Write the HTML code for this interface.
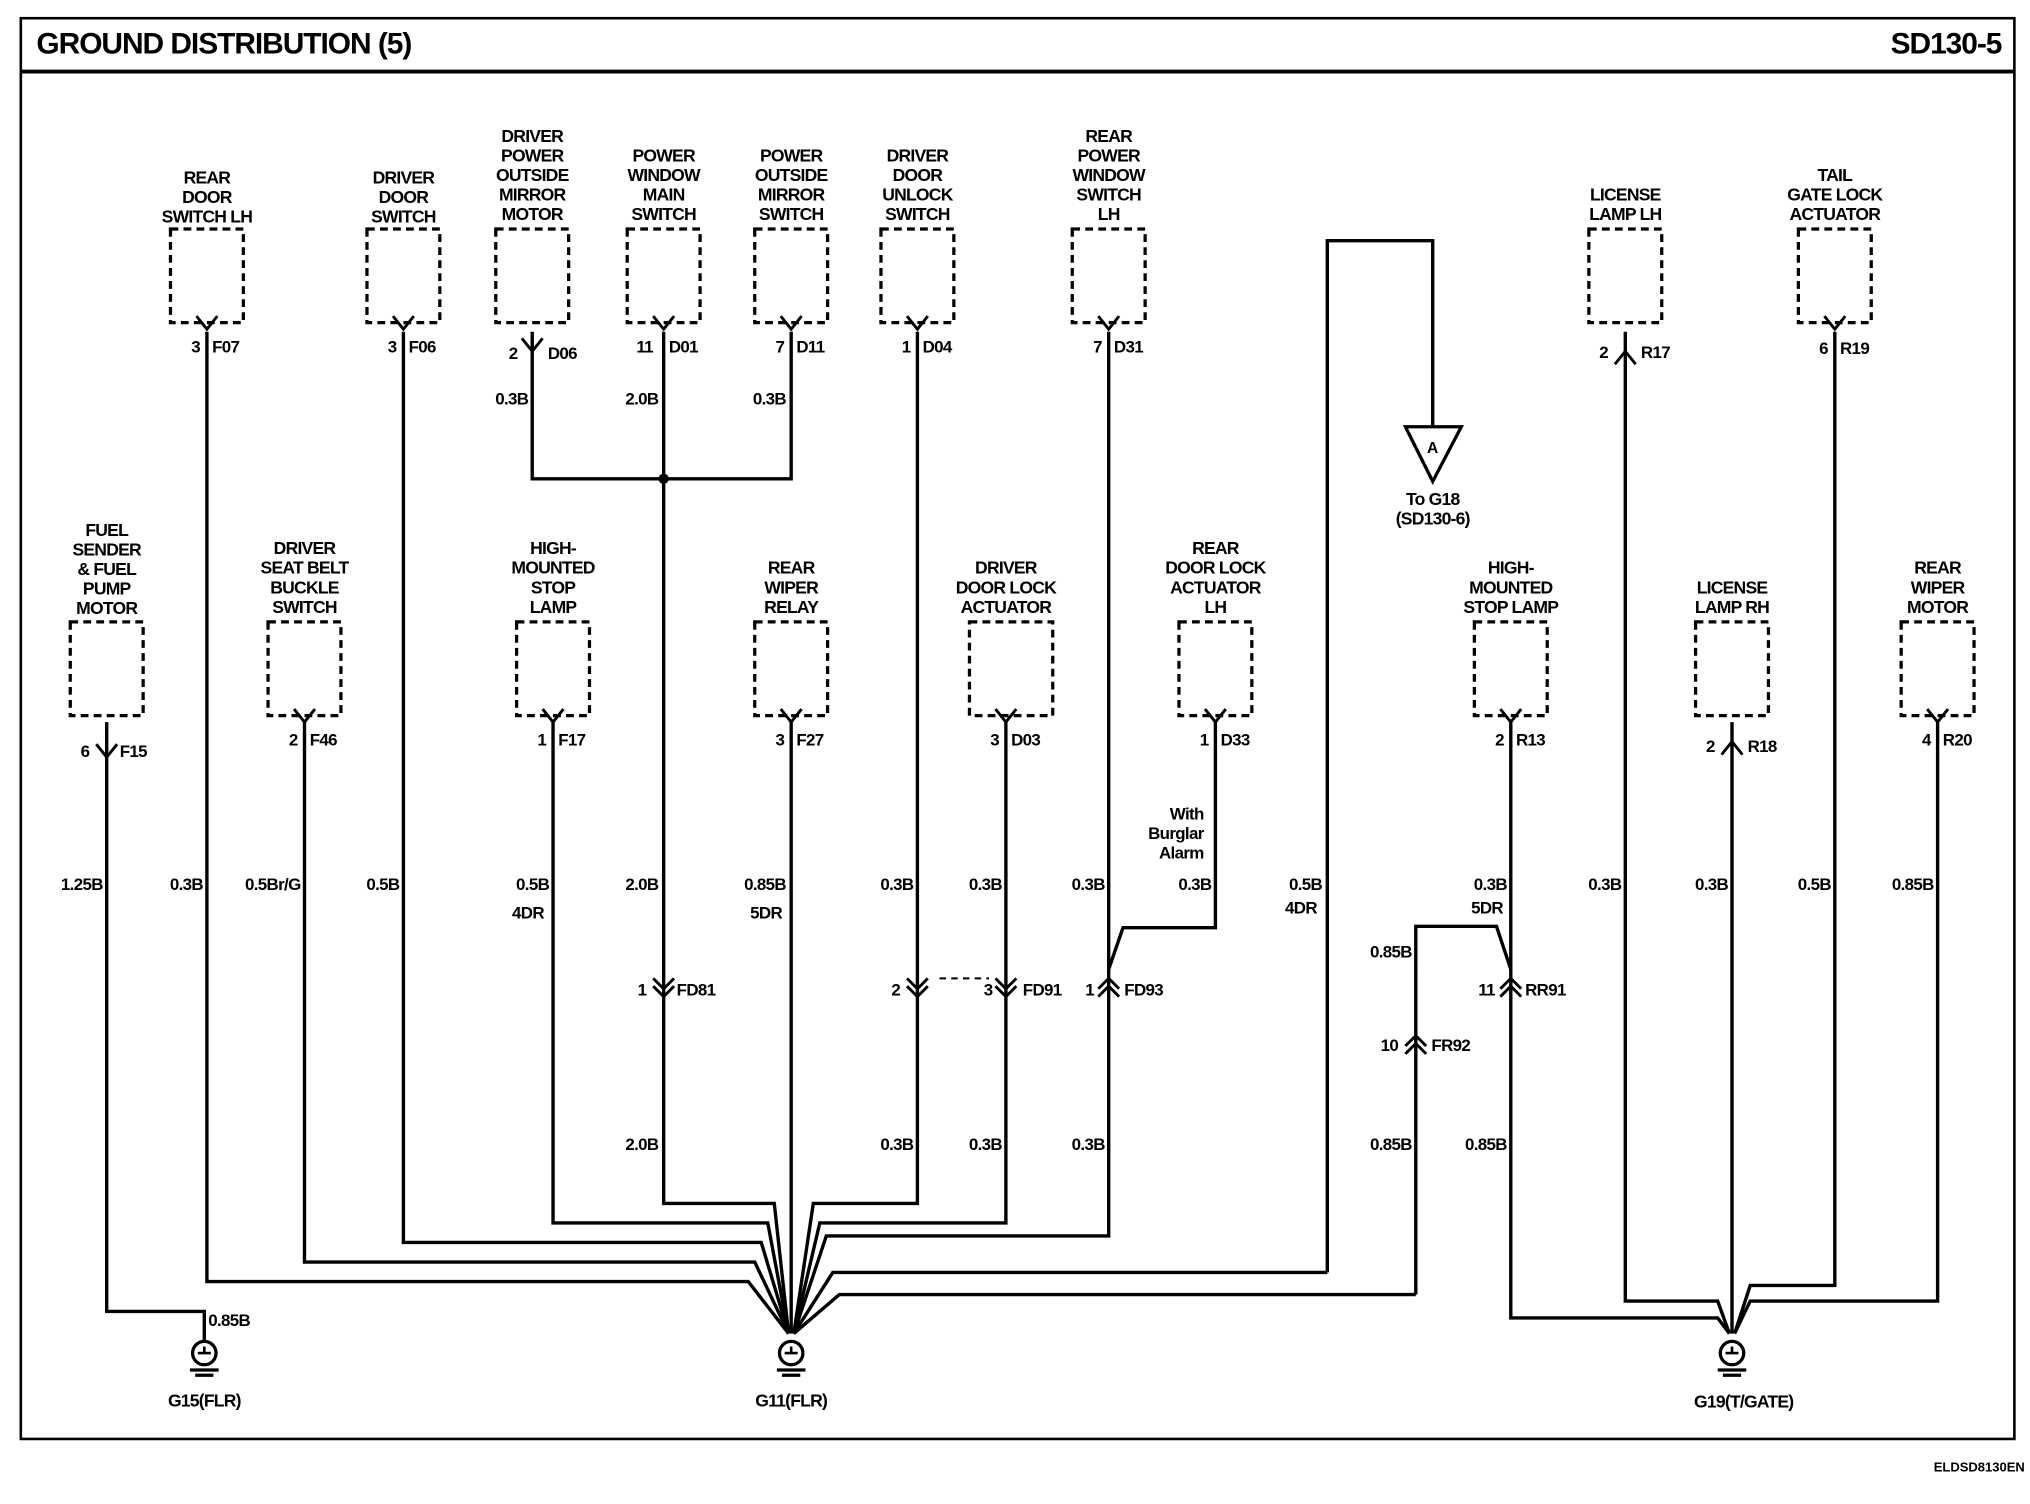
<!DOCTYPE html>
<html><head><meta charset="utf-8"><style>
html,body{margin:0;padding:0;background:#fff}
svg{display:block}
text{font-family:"Liberation Sans",Arial,sans-serif;font-weight:bold;fill:#000}
.l{font-size:13.5px;text-anchor:middle;letter-spacing:-0.6px}
.w{font-size:13px;text-anchor:end;letter-spacing:-0.5px}
.p{font-size:13px;letter-spacing:-0.5px}
.box{fill:none;stroke:#000;stroke-width:2.5;stroke-dasharray:6,4}
.wr{fill:none;stroke:#000;stroke-width:2.6}
.ch{fill:none;stroke:#000;stroke-width:2.2}
</style></head><body>
<svg width="2030" height="1504" viewBox="0 0 1560 1156" preserveAspectRatio="none" xmlns="http://www.w3.org/2000/svg">
<rect x="16" y="14" width="1532" height="1092" fill="none" stroke="#000" stroke-width="2"/>
<line x1="16" y1="55" x2="1548" y2="55" stroke="#000" stroke-width="3"/>
<text x="28" y="41" style="font-size:23px;letter-spacing:-0.8px">GROUND DISTRIBUTION (5)</text>
<text x="1538" y="41" style="font-size:23px;text-anchor:end;letter-spacing:-0.8px">SD130-5</text>
<text x="1556" y="1131" style="font-size:10px;text-anchor:end">ELDSD8130EN</text>

<!-- top row boxes -->
<g>
<rect class="box" x="131" y="176" width="56" height="72"/>
<rect class="box" x="282" y="176" width="56" height="72"/>
<rect class="box" x="381" y="176" width="56" height="72"/>
<rect class="box" x="482" y="176" width="56" height="72"/>
<rect class="box" x="580" y="176" width="56" height="72"/>
<rect class="box" x="677" y="176" width="56" height="72"/>
<rect class="box" x="824" y="176" width="56" height="72"/>
<rect class="box" x="1221" y="176" width="56" height="72"/>
<rect class="box" x="1382" y="176" width="56" height="72"/>
<!-- second row -->
<rect class="box" x="54" y="478" width="56" height="72"/>
<rect class="box" x="206" y="478" width="56" height="72"/>
<rect class="box" x="397" y="478" width="56" height="72"/>
<rect class="box" x="580" y="478" width="56" height="72"/>
<rect class="box" x="745" y="478" width="64" height="72"/>
<rect class="box" x="906" y="478" width="56" height="72"/>
<rect class="box" x="1133" y="478" width="56" height="72"/>
<rect class="box" x="1303" y="478" width="56" height="72"/>
<rect class="box" x="1461" y="478" width="56" height="72"/>
</g>

<!-- component labels -->
<text class="l" x="159" y="141">REAR</text><text class="l" x="159" y="156">DOOR</text><text class="l" x="159" y="171">SWITCH LH</text>
<text class="l" x="310" y="141">DRIVER</text><text class="l" x="310" y="156">DOOR</text><text class="l" x="310" y="171">SWITCH</text>
<text class="l" x="409" y="109">DRIVER</text><text class="l" x="409" y="124">POWER</text><text class="l" x="409" y="139">OUTSIDE</text><text class="l" x="409" y="154">MIRROR</text><text class="l" x="409" y="169">MOTOR</text>
<text class="l" x="510" y="124">POWER</text><text class="l" x="510" y="139">WINDOW</text><text class="l" x="510" y="154">MAIN</text><text class="l" x="510" y="169">SWITCH</text>
<text class="l" x="608" y="124">POWER</text><text class="l" x="608" y="139">OUTSIDE</text><text class="l" x="608" y="154">MIRROR</text><text class="l" x="608" y="169">SWITCH</text>
<text class="l" x="705" y="124">DRIVER</text><text class="l" x="705" y="139">DOOR</text><text class="l" x="705" y="154">UNLOCK</text><text class="l" x="705" y="169">SWITCH</text>
<text class="l" x="852" y="109">REAR</text><text class="l" x="852" y="124">POWER</text><text class="l" x="852" y="139">WINDOW</text><text class="l" x="852" y="154">SWITCH</text><text class="l" x="852" y="169">LH</text>
<text class="l" x="1249" y="154">LICENSE</text><text class="l" x="1249" y="169">LAMP LH</text>
<text class="l" x="1410" y="139">TAIL</text><text class="l" x="1410" y="154">GATE LOCK</text><text class="l" x="1410" y="169">ACTUATOR</text>
<text class="l" x="82" y="412">FUEL</text><text class="l" x="82" y="427">SENDER</text><text class="l" x="82" y="442">&amp; FUEL</text><text class="l" x="82" y="457">PUMP</text><text class="l" x="82" y="472">MOTOR</text>
<text class="l" x="234" y="426">DRIVER</text><text class="l" x="234" y="441">SEAT BELT</text><text class="l" x="234" y="456">BUCKLE</text><text class="l" x="234" y="471">SWITCH</text>
<text class="l" x="425" y="426">HIGH-</text><text class="l" x="425" y="441">MOUNTED</text><text class="l" x="425" y="456">STOP</text><text class="l" x="425" y="471">LAMP</text>
<text class="l" x="608" y="441">REAR</text><text class="l" x="608" y="456">WIPER</text><text class="l" x="608" y="471">RELAY</text>
<text class="l" x="773" y="441">DRIVER</text><text class="l" x="773" y="456">DOOR LOCK</text><text class="l" x="773" y="471">ACTUATOR</text>
<text class="l" x="934" y="426">REAR</text><text class="l" x="934" y="441">DOOR LOCK</text><text class="l" x="934" y="456">ACTUATOR</text><text class="l" x="934" y="471">LH</text>
<text class="l" x="1161" y="441">HIGH-</text><text class="l" x="1161" y="456">MOUNTED</text><text class="l" x="1161" y="471">STOP LAMP</text>
<text class="l" x="1331" y="456">LICENSE</text><text class="l" x="1331" y="471">LAMP RH</text>
<text class="l" x="1489" y="441">REAR</text><text class="l" x="1489" y="456">WIPER</text><text class="l" x="1489" y="471">MOTOR</text>

<!-- wires -->
<g class="wr">
<polyline points="159,255 159,985 575,985 606,1025"/>
<polyline points="310,255 310,955 585,955 606,1025"/>
<polyline points="409,255 409,368 608,368 608,255"/>
<polyline points="510,255 510,925 595,925 606,1025"/>
<polyline points="705,255 705,925 625,925 610,1025"/>
<polyline points="852,255 852,950 635,950 610,1025"/>
<polyline points="82,555 82,1008 157,1008 157,1030"/>
<polyline points="234,555 234,970 580,970 606,1025"/>
<polyline points="425,555 425,940 590,940 606,1025"/>
<polyline points="608,555 608,1025"/>
<polyline points="773,555 773,940 630,940 610,1025"/>
<polyline points="934,555 934,713 863,713 852,745"/>
<polyline points="1020,978 1020,185 1101,185 1101,328"/>
<polyline points="1020,978 640,978 610,1025"/>
<polyline points="1088,995 645,995 610,1025"/>
<polyline points="1088,995 1088,712 1150,712 1161,745"/>
<polyline points="1161,555 1161,1013 1320,1013 1329,1025"/>
<polyline points="1249,255 1249,1000 1320,1000 1329,1025"/>
<polyline points="1410,255 1410,988 1345,988 1333,1025"/>
<polyline points="1331,555 1331,1025"/>
<polyline points="1489,555 1489,1000 1345,1000 1333,1025"/>
</g>
<line x1="722" y1="752" x2="760" y2="752" stroke="#000" stroke-width="1.5" stroke-dasharray="5,4"/>
<circle cx="510" cy="368" r="4" fill="#000"/>
<polygon points="1080,328 1123,328 1101,370" fill="#fff" stroke="#000" stroke-width="2.5"/>
<text x="1101" y="348" style="font-size:12px;text-anchor:middle">A</text>
<text class="l" x="1101" y="388">To G18</text><text class="l" x="1101" y="403">(SD130-6)</text>

<!-- connectors -->
<g class="ch">
<polyline points="151,243 159,253 167,243"/><polyline points="302,243 310,253 318,243"/>
<polyline points="401,260 409,270 417,260"/><polyline points="502,243 510,253 518,243"/>
<polyline points="600,243 608,253 616,243"/><polyline points="697,243 705,253 713,243"/>
<polyline points="844,243 852,253 860,243"/><polyline points="1241,280 1249,270 1257,280"/>
<polyline points="1402,243 1410,253 1418,243"/>
<polyline points="74,572 82,582 90,572"/><polyline points="226,545 234,555 242,545"/>
<polyline points="417,545 425,555 433,545"/><polyline points="600,545 608,555 616,545"/>
<polyline points="765,545 773,555 781,545"/><polyline points="926,545 934,555 942,545"/>
<polyline points="1153,545 1161,555 1169,545"/><polyline points="1323,580 1331,570 1339,580"/>
<polyline points="1481,545 1489,555 1497,545"/>
<polyline points="502,752 510,760 518,752"/><polyline points="502,758 510,766 518,758"/>
<polyline points="697,752 705,760 713,752"/><polyline points="697,758 705,766 713,758"/>
<polyline points="765,752 773,760 781,752"/><polyline points="765,758 773,766 781,758"/>
<polyline points="844,760 852,752 860,760"/><polyline points="844,766 852,758 860,766"/>
<polyline points="1153,760 1161,752 1169,760"/><polyline points="1153,766 1161,758 1169,766"/>
<polyline points="1080,804 1088,796 1096,804"/><polyline points="1080,810 1088,802 1096,810"/>
</g>

<!-- pin labels -->
<g class="p">
<text x="147" y="271">3</text><text x="163" y="271">F07</text>
<text x="298" y="271">3</text><text x="314" y="271">F06</text>
<text x="391" y="276">2</text><text x="421" y="276">D06</text>
<text x="489" y="271">11</text><text x="514" y="271">D01</text>
<text x="596" y="271">7</text><text x="612" y="271">D11</text>
<text x="693" y="271">1</text><text x="709" y="271">D04</text>
<text x="840" y="271">7</text><text x="856" y="271">D31</text>
<text x="1229" y="275">2</text><text x="1261" y="275">R17</text>
<text x="1398" y="272">6</text><text x="1414" y="272">R19</text>
<text x="62" y="582">6</text><text x="92" y="582">F15</text>
<text x="222" y="573">2</text><text x="238" y="573">F46</text>
<text x="413" y="573">1</text><text x="429" y="573">F17</text>
<text x="596" y="573">3</text><text x="612" y="573">F27</text>
<text x="761" y="573">3</text><text x="777" y="573">D03</text>
<text x="922" y="573">1</text><text x="938" y="573">D33</text>
<text x="1149" y="573">2</text><text x="1165" y="573">R13</text>
<text x="1311" y="578">2</text><text x="1343" y="578">R18</text>
<text x="1477" y="573">4</text><text x="1493" y="573">R20</text>
<text x="490" y="765">1</text><text x="520" y="765">FD81</text>
<text x="685" y="765">2</text><text x="756" y="765">3</text><text x="786" y="765">FD91</text>
<text x="834" y="765">1</text><text x="864" y="765">FD93</text>
<text x="1136" y="765">11</text><text x="1172" y="765">RR91</text>
<text x="1061" y="808">10</text><text x="1100" y="808">FR92</text>
</g>

<!-- wire labels -->
<g class="w">
<text x="406" y="311">0.3B</text><text x="506" y="311">2.0B</text><text x="604" y="311">0.3B</text>
<text x="79" y="684">1.25B</text><text x="156" y="684">0.3B</text><text x="231" y="684">0.5Br/G</text>
<text x="307" y="684">0.5B</text><text x="422" y="684">0.5B</text><text x="418" y="706">4DR</text>
<text x="506" y="684">2.0B</text><text x="604" y="684">0.85B</text><text x="601" y="706">5DR</text>
<text x="702" y="684">0.3B</text><text x="770" y="684">0.3B</text><text x="849" y="684">0.3B</text>
<text x="931" y="684">0.3B</text><text x="1016" y="684">0.5B</text><text x="1012" y="702">4DR</text>
<text x="1158" y="684">0.3B</text><text x="1155" y="702">5DR</text>
<text x="1246" y="684">0.3B</text><text x="1328" y="684">0.3B</text><text x="1407" y="684">0.5B</text>
<text x="1486" y="684">0.85B</text>
<text x="1085" y="736">0.85B</text>
<text x="506" y="884">2.0B</text><text x="702" y="884">0.3B</text><text x="770" y="884">0.3B</text>
<text x="849" y="884">0.3B</text><text x="1085" y="884">0.85B</text><text x="1158" y="884">0.85B</text>
<text x="925" y="630">With</text><text x="925" y="645">Burglar</text><text x="925" y="660">Alarm</text>
</g>
<text class="p" x="160" y="1019">0.85B</text>

<!-- grounds -->
<g id="gnd">
<g transform="translate(157,1040)">
<circle r="9" fill="#fff" stroke="#000" stroke-width="2.5"/><line x1="-5" y1="0" x2="5" y2="0" stroke="#000" stroke-width="2"/><line x1="0" y1="-5" x2="0" y2="0" stroke="#000" stroke-width="2"/>
<line x1="-11" y1="13" x2="11" y2="13" stroke="#000" stroke-width="2.5"/><line x1="-7" y1="17" x2="7" y2="17" stroke="#000" stroke-width="2.5"/>
</g>
<g transform="translate(608,1040)">
<circle r="9" fill="#fff" stroke="#000" stroke-width="2.5"/><line x1="-5" y1="0" x2="5" y2="0" stroke="#000" stroke-width="2"/><line x1="0" y1="-5" x2="0" y2="0" stroke="#000" stroke-width="2"/>
<line x1="-11" y1="13" x2="11" y2="13" stroke="#000" stroke-width="2.5"/><line x1="-7" y1="17" x2="7" y2="17" stroke="#000" stroke-width="2.5"/>
</g>
<g transform="translate(1331,1040)">
<circle r="9" fill="#fff" stroke="#000" stroke-width="2.5"/><line x1="-5" y1="0" x2="5" y2="0" stroke="#000" stroke-width="2"/><line x1="0" y1="-5" x2="0" y2="0" stroke="#000" stroke-width="2"/>
<line x1="-11" y1="13" x2="11" y2="13" stroke="#000" stroke-width="2.5"/><line x1="-7" y1="17" x2="7" y2="17" stroke="#000" stroke-width="2.5"/>
</g>
</g>
<text class="l" x="157" y="1081">G15(FLR)</text>
<text class="l" x="608" y="1081">G11(FLR)</text>
<text class="l" x="1340" y="1082">G19(T/GATE)</text>
</svg>
</body></html>
